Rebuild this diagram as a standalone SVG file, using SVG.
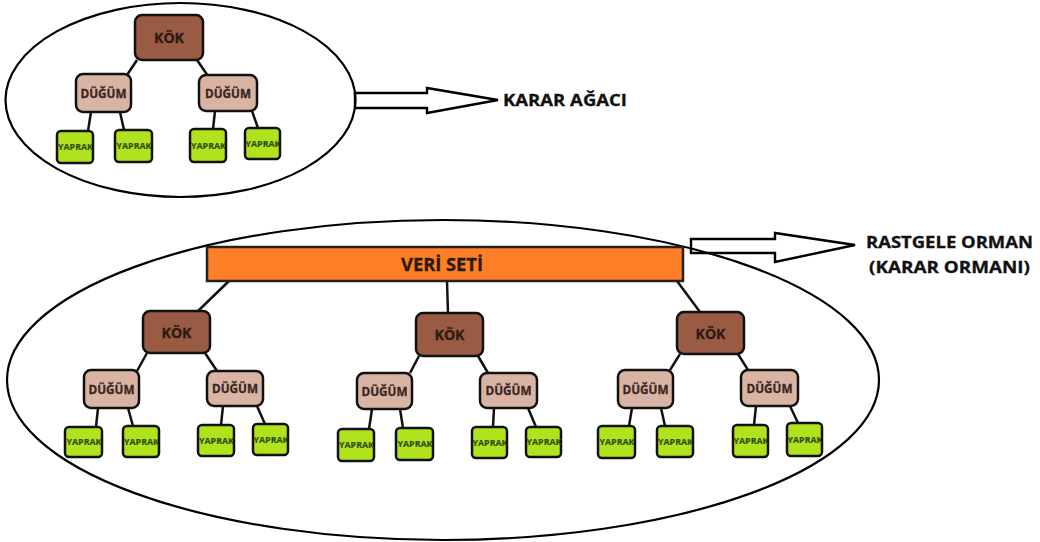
<svg xmlns="http://www.w3.org/2000/svg" width="1040" height="542" viewBox="0 0 1040 542">
<style>
.bg{fill:#ffffff}
.oval{fill:none;stroke:#000;stroke-width:2.2}
.arrow{fill:none;stroke:#000;stroke-width:2.4;stroke-linejoin:miter}
.kok{fill:#9a5b44;stroke:#111;stroke-width:2.5}
.dug{fill:#d9b4a5;stroke:#111;stroke-width:2.5}
.yap{fill:#b0e21e;stroke:#111;stroke-width:2.5}
.veri{fill:#ff7f27;stroke:#222;stroke-width:2.5}
.ln{stroke:#111;stroke-width:2.5;fill:none}
text{font-family:"Open Sans","Liberation Sans",sans-serif;font-weight:700;text-anchor:middle}
.tk{font-size:14px;fill:#2e1a14;stroke:#2e1a14;stroke-width:0.3}
.td{font-size:13px;fill:#3a2620;stroke:#3a2620;stroke-width:0.3}
.ty{font-size:9.5px;fill:#2d5010;stroke:#2d5010;stroke-width:0.2}
.tv{font-size:17px;fill:#2a1a12;stroke:#2a1a12;stroke-width:0.3}
.lab{font-size:16px;fill:#111;text-anchor:start;stroke:#111;stroke-width:0.3}
</style>
<rect class="bg" x="0" y="0" width="1040" height="542"/>

<g id="decision-tree-frame">
<ellipse class="oval" cx="180.5" cy="100" rx="175" ry="97"/>
</g>
<g id="random-forest-frame">
<ellipse class="oval" cx="443" cy="380" rx="436" ry="160"/>
</g>

<g id="connectors">
<polygon class="arrow" points="355,93 427,93 427,88 498,100 427,113 427,108 355,108"/>
<polygon class="arrow" points="691,239 775,239 775,233 855,245 775,262 775,253 691,253"/>
<!-- top tree -->
<line class="ln" x1="137" y1="60" x2="127" y2="75"/>
<line class="ln" x1="197" y1="60" x2="208" y2="76"/>
<line class="ln" x1="91" y1="112" x2="88" y2="131"/>
<line class="ln" x1="120" y1="112" x2="124" y2="130"/>
<line class="ln" x1="215" y1="111" x2="213" y2="129"/>
<line class="ln" x1="252" y1="111" x2="258" y2="128"/>
<!-- forest: dataset to roots -->
<line class="ln" x1="229" y1="281" x2="198" y2="311"/>
<line class="ln" x1="447" y1="281" x2="448" y2="313"/>
<line class="ln" x1="677" y1="281" x2="700" y2="312"/>
<!-- tree 1 -->
<line class="ln" x1="147" y1="353" x2="137" y2="371"/>
<line class="ln" x1="205" y1="353" x2="217" y2="371"/>
<line class="ln" x1="98" y1="408" x2="96" y2="427"/>
<line class="ln" x1="128" y1="408" x2="133" y2="426"/>
<line class="ln" x1="223" y1="406" x2="221" y2="425"/>
<line class="ln" x1="257" y1="406" x2="265" y2="424"/>
<!-- tree 2 -->
<line class="ln" x1="419" y1="356" x2="410" y2="373"/>
<line class="ln" x1="478" y1="356" x2="488" y2="373"/>
<line class="ln" x1="372" y1="409" x2="369" y2="429"/>
<line class="ln" x1="400" y1="409" x2="403" y2="428"/>
<line class="ln" x1="494" y1="408" x2="493" y2="427"/>
<line class="ln" x1="528" y1="408" x2="536" y2="427"/>
<!-- tree 3 -->
<line class="ln" x1="680" y1="354" x2="670" y2="370"/>
<line class="ln" x1="738" y1="354" x2="748" y2="370"/>
<line class="ln" x1="632" y1="408" x2="629" y2="426"/>
<line class="ln" x1="661" y1="408" x2="665" y2="426"/>
<line class="ln" x1="756" y1="406" x2="754" y2="425"/>
<line class="ln" x1="790" y1="406" x2="798" y2="423"/>
</g>

<g id="label-karar-agaci"><text class="lab" x="503" y="106" textLength="124" lengthAdjust="spacingAndGlyphs">KARAR AĞACI</text></g>
<g id="label-rastgele-orman">
<text class="lab" x="866" y="248" textLength="167" lengthAdjust="spacingAndGlyphs">RASTGELE ORMAN</text>
<text class="lab" x="869" y="273" textLength="161" lengthAdjust="spacingAndGlyphs">(KARAR ORMANI)</text>
</g>

<!-- top tree nodes -->
<g id="t0-kok"><rect class="kok" x="135" y="15" width="68" height="45" rx="7"/><text class="tk" x="169" y="42.5" textLength="30" lengthAdjust="spacingAndGlyphs">KÖK</text></g>
<g id="t0-dug1"><rect class="dug" x="76" y="74" width="55" height="38" rx="7"/><text class="td" x="103.5" y="97.5" textLength="46" lengthAdjust="spacingAndGlyphs">DÜĞÜM</text></g>
<g id="t0-dug2"><rect class="dug" x="199" y="75" width="58" height="36" rx="7"/><text class="td" x="228" y="97.5" textLength="46" lengthAdjust="spacingAndGlyphs">DÜĞÜM</text></g>
<g id="t0-y1"><rect class="yap" x="57" y="131" width="36" height="32" rx="4"/><text class="ty" x="75.5" y="150" textLength="35" lengthAdjust="spacingAndGlyphs">YAPRAK</text></g>
<g id="t0-y2"><rect class="yap" x="115" y="130" width="37" height="32" rx="4"/><text class="ty" x="134" y="149" textLength="35" lengthAdjust="spacingAndGlyphs">YAPRAK</text></g>
<g id="t0-y3"><rect class="yap" x="190" y="129" width="36" height="33" rx="4"/><text class="ty" x="208.5" y="149" textLength="35" lengthAdjust="spacingAndGlyphs">YAPRAK</text></g>
<g id="t0-y4"><rect class="yap" x="245" y="128" width="35" height="31" rx="4"/><text class="ty" x="263" y="147" textLength="35" lengthAdjust="spacingAndGlyphs">YAPRAK</text></g>

<!-- dataset -->
<g id="veri-seti"><rect class="veri" x="207" y="247" width="476" height="34"/><text class="tv" x="442" y="270.5" textLength="82" lengthAdjust="spacingAndGlyphs">VERİ SETİ</text></g>

<!-- forest tree 1 -->
<g id="t1-kok"><rect class="kok" x="143" y="311" width="67" height="42" rx="7"/><text class="tk" x="176.5" y="337.5" textLength="30" lengthAdjust="spacingAndGlyphs">KÖK</text></g>
<g id="t1-dug1"><rect class="dug" x="84" y="370" width="55" height="38" rx="7"/><text class="td" x="111.5" y="393.5" textLength="46" lengthAdjust="spacingAndGlyphs">DÜĞÜM</text></g>
<g id="t1-dug2"><rect class="dug" x="207" y="371" width="56" height="35" rx="7"/><text class="td" x="235" y="393" textLength="46" lengthAdjust="spacingAndGlyphs">DÜĞÜM</text></g>
<g id="t1-y1"><rect class="yap" x="65" y="427" width="37" height="30" rx="4"/><text class="ty" x="84" y="445" textLength="35" lengthAdjust="spacingAndGlyphs">YAPRAK</text></g>
<g id="t1-y2"><rect class="yap" x="123" y="426" width="36" height="31" rx="4"/><text class="ty" x="141.5" y="444.5" textLength="35" lengthAdjust="spacingAndGlyphs">YAPRAK</text></g>
<g id="t1-y3"><rect class="yap" x="198" y="425" width="36" height="31" rx="4"/><text class="ty" x="216.5" y="443.5" textLength="35" lengthAdjust="spacingAndGlyphs">YAPRAK</text></g>
<g id="t1-y4"><rect class="yap" x="253" y="424" width="35" height="31" rx="4"/><text class="ty" x="271" y="442.5" textLength="35" lengthAdjust="spacingAndGlyphs">YAPRAK</text></g>

<!-- forest tree 2 -->
<g id="t2-kok"><rect class="kok" x="416" y="313" width="67" height="43" rx="7"/><text class="tk" x="449.5" y="339.5" textLength="30" lengthAdjust="spacingAndGlyphs">KÖK</text></g>
<g id="t2-dug1"><rect class="dug" x="357" y="373" width="55" height="36" rx="7"/><text class="td" x="384.5" y="395.5" textLength="46" lengthAdjust="spacingAndGlyphs">DÜĞÜM</text></g>
<g id="t2-dug2"><rect class="dug" x="480" y="373" width="57" height="35" rx="7"/><text class="td" x="508.5" y="395" textLength="46" lengthAdjust="spacingAndGlyphs">DÜĞÜM</text></g>
<g id="t2-y1"><rect class="yap" x="338" y="429" width="36" height="32" rx="4"/><text class="ty" x="356.5" y="448" textLength="35" lengthAdjust="spacingAndGlyphs">YAPRAK</text></g>
<g id="t2-y2"><rect class="yap" x="396" y="428" width="37" height="32" rx="4"/><text class="ty" x="415" y="447" textLength="35" lengthAdjust="spacingAndGlyphs">YAPRAK</text></g>
<g id="t2-y3"><rect class="yap" x="472" y="427" width="35" height="31" rx="4"/><text class="ty" x="490" y="445.5" textLength="35" lengthAdjust="spacingAndGlyphs">YAPRAK</text></g>
<g id="t2-y4"><rect class="yap" x="526" y="427" width="35" height="30" rx="4"/><text class="ty" x="544" y="445" textLength="35" lengthAdjust="spacingAndGlyphs">YAPRAK</text></g>

<!-- forest tree 3 -->
<g id="t3-kok"><rect class="kok" x="677" y="312" width="67" height="42" rx="7"/><text class="tk" x="710.5" y="338.5" textLength="30" lengthAdjust="spacingAndGlyphs">KÖK</text></g>
<g id="t3-dug1"><rect class="dug" x="618" y="370" width="55" height="38" rx="7"/><text class="td" x="645.5" y="393.5" textLength="46" lengthAdjust="spacingAndGlyphs">DÜĞÜM</text></g>
<g id="t3-dug2"><rect class="dug" x="741" y="370" width="57" height="36" rx="7"/><text class="td" x="769.5" y="392.5" textLength="46" lengthAdjust="spacingAndGlyphs">DÜĞÜM</text></g>
<g id="t3-y1"><rect class="yap" x="598" y="426" width="37" height="32" rx="4"/><text class="ty" x="617" y="445" textLength="35" lengthAdjust="spacingAndGlyphs">YAPRAK</text></g>
<g id="t3-y2"><rect class="yap" x="657" y="426" width="36" height="31" rx="4"/><text class="ty" x="675.5" y="444.5" textLength="35" lengthAdjust="spacingAndGlyphs">YAPRAK</text></g>
<g id="t3-y3"><rect class="yap" x="733" y="425" width="35" height="32" rx="4"/><text class="ty" x="751" y="444" textLength="35" lengthAdjust="spacingAndGlyphs">YAPRAK</text></g>
<g id="t3-y4"><rect class="yap" x="787" y="423" width="35" height="33" rx="4"/><text class="ty" x="805" y="442.5" textLength="35" lengthAdjust="spacingAndGlyphs">YAPRAK</text></g>
</svg>
